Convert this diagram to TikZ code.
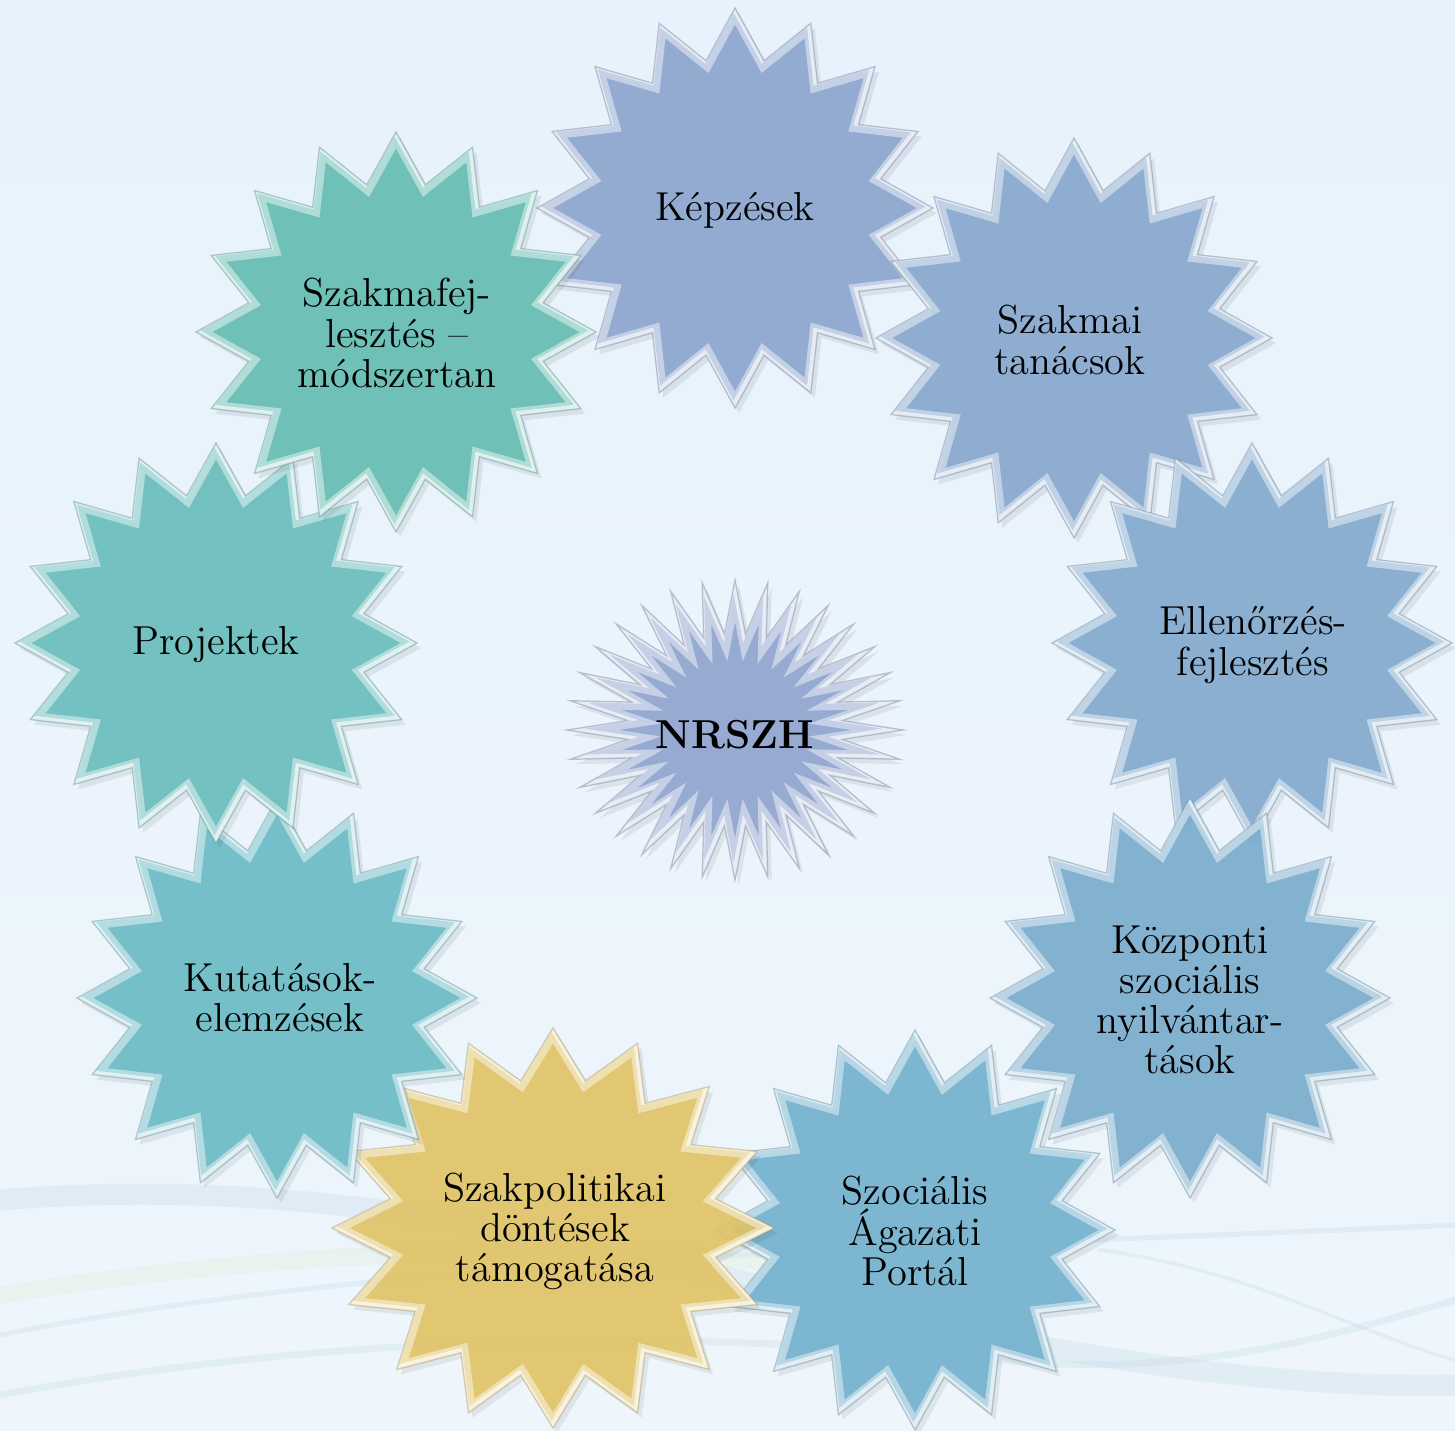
\documentclass[tikz,border=0pt]{standalone}
\usepackage{fontspec}
\definecolor{bgtop}{HTML}{E7F2FC}
\definecolor{bgbot}{HTML}{EEF6FC}
\definecolor{cKep}{HTML}{8CA6CE}
\definecolor{cSzt}{HTML}{88A8CF}
\definecolor{cEll}{HTML}{82AACF}
\definecolor{cKoz}{HTML}{7AADCF}
\definecolor{cPor}{HTML}{72B2CF}
\definecolor{cPol}{HTML}{E2C466}
\definecolor{cKut}{HTML}{6ABCC6}
\definecolor{cPro}{HTML}{68BEBC}
\definecolor{cMod}{HTML}{64BDB2}
\definecolor{cCen}{HTML}{90A4D0}
\definecolor{waveA}{HTML}{C5D9E6}
\definecolor{waveB}{HTML}{DDEBCF}
% star path: cx cy rx ry m(=2*points) ratio m-1
\newcommand\bpath[7]{(#1,#2+#4) \foreach \k [evaluate=\k as \px using {#1+#3*((mod(\k,2)==0) ? 1 : #6)*cos(90+\k*(360/#5))}, evaluate=\k as \py using {#2+#4*((mod(\k,2)==0) ? 1 : #6)*sin(90+\k*(360/#5))}] in {1,...,#7} { -- (\px,\py) } -- cycle}
\newcommand\burst[8]{%
  \fill[black, opacity=0.07] [shift={(4,5)}] \bpath{#1}{#2}{#3}{#4}{#5}{#6}{#7};
  \fill[#8, fill opacity=0.9] \bpath{#1}{#2}{#3}{#4}{#5}{#6}{#7};
  \begin{scope}
    \clip \bpath{#1}{#2}{#3}{#4}{#5}{#6}{#7};
    \draw[white, opacity=0.45, line width=4.5pt, line join=miter] \bpath{#1}{#2}{#3}{#4}{#5}{#6}{#7};
    \draw[white, opacity=0.6, line width=1.6pt, line join=miter] [shift={(-1.5,-1.5)}] \bpath{#1}{#2}{#3}{#4}{#5}{#6}{#7};
  \end{scope}
  \draw[#8!60!black, opacity=0.3, line width=0.4pt, line join=miter] \bpath{#1}{#2}{#3}{#4}{#5}{#6}{#7};
}
\begin{document}
\begin{tikzpicture}[x=0.01cm,y=-0.01cm,
  lbl/.style={align=center, font=\fontsize{11.5}{11.4}\selectfont, text=black, inner sep=0pt},
  wave/.style={line cap=round, opacity=0.3}]
\useasboundingbox (0,0) rectangle (1455,1430);
\shade[top color=bgtop, bottom color=bgbot] (0,0) rectangle (1455,1430);
% background waves
\draw[wave, waveA, line width=6pt] (0,1200) .. controls (300,1175) and (550,1235) .. (780,1290) .. controls (1000,1345) and (1250,1390) .. (1455,1385);
\draw[wave, waveA, line width=1.5pt] (0,1335) .. controls (400,1255) and (900,1250) .. (1455,1225);
\draw[wave, waveB, line width=5pt] (0,1295) .. controls (250,1255) and (550,1235) .. (850,1270);
\draw[wave, waveA, line width=2pt] (0,1395) .. controls (350,1330) and (700,1330) .. (1000,1360) .. controls (1200,1380) and (1350,1330) .. (1455,1300);
\draw[wave, waveA, line width=1pt] (1100,1250) .. controls (1250,1270) and (1350,1330) .. (1455,1360);
% center
\burst{735}{730}{168}{150}{64}{0.64}{63}{cCen}
\node[lbl, font=\fontsize{11.5}{11.4}\selectfont\bfseries] (nrszh) at (735,735) {NRSZH};
% outer stars (clockwise)
\burst{735}{208}{198}{200}{32}{0.75}{31}{cKep}
\node[lbl] (kep) at (735,210) {Képzések};
\burst{1074}{338}{198}{200}{32}{0.75}{31}{cSzt}
\node[lbl] (szt) at (1070,340) {Szakmai\\tanácsok};
\burst{1252}{643}{200}{200}{32}{0.75}{31}{cEll}
\node[lbl] (ell) at (1253,645) {Ellenőrzés-\\fejlesztés};
\burst{1190}{998}{200}{200}{32}{0.75}{31}{cKoz}
\node[lbl] (koz) at (1190,1000) {Központi\\szociális\\nyilvántar-\\tások};
\burst{915}{1230}{200}{200}{32}{0.75}{31}{cPor}
\node[lbl] (por) at (915,1231) {Szociális\\Ágazati\\Portál};
\burst{553}{1228}{221}{200}{32}{0.75}{31}{cPol}
\node[lbl] (pol) at (555,1231) {Szakpolitikai\\döntések\\támogatása};
\burst{277}{998}{200}{200}{32}{0.75}{31}{cKut}
\node[lbl] (kut) at (280,998) {Kutatások-\\elemzések};
\burst{216}{643}{201}{200}{32}{0.75}{31}{cPro}
\node[lbl] (pro) at (216,645) {Projektek};
\burst{396}{332}{200}{200}{32}{0.75}{31}{cMod}
\node[lbl] (mod) at (397,333) {Szakmafej-\\lesztés –\\módszertan};
\end{tikzpicture}
\end{document}
